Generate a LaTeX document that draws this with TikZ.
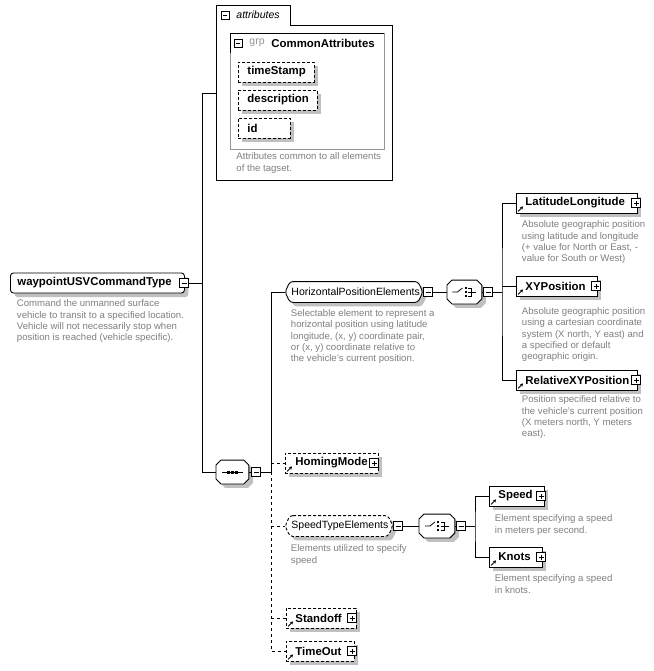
\documentclass[tikz,border=0pt]{standalone}
\usepackage{fontspec}
\setmainfont{Liberation Sans}
\usetikzlibrary{shadows,arrows.meta}
\definecolor{descc}{RGB}{128,128,128}
\definecolor{shc}{RGB}{192,192,192}
\definecolor{grpc}{RGB}{150,150,150}
% octagon (compositor) outline around a named node: node, chamfer, offset
\newcommand\octp[3]{([shift={(#2+#3,#3)}]#1.north west) -- ([shift={(-#2+#3,#3)}]#1.north east) -- ([shift={(#3,#2+#3)}]#1.north east) -- ([shift={(#3,-#2+#3)}]#1.south east) -- ([shift={(-#2+#3,#3)}]#1.south east) -- ([shift={(#2+#3,#3)}]#1.south west) -- ([shift={(#3,-#2+#3)}]#1.south west) -- ([shift={(#3,#2+#3)}]#1.north west) -- cycle}
% hexagon (group) outline: node, dx, offset
\newcommand\hexp[3]{([shift={(#2+#3,#3)}]#1.north west) -- ([shift={(-#2+#3,#3)}]#1.north east) -- ([shift={(#3,#3)}]#1.east) -- ([shift={(-#2+#3,#3)}]#1.south east) -- ([shift={(#2+#3,#3)}]#1.south west) -- ([shift={(#3,#3)}]#1.west) -- cycle}
\newcommand\seqsym[1]{%
  \draw[line width=0.8pt] ([xshift=-10pt]#1.center) -- ([xshift=11pt]#1.center);
  \foreach \d in {-4,0,4} \fill ([shift={(\d-1.5,-1.5)}]#1.center) rectangle ++(3,3);}
\newcommand\chsym[1]{%
  \draw[line width=0.8pt] ([xshift=-12pt]#1.center) -- ([xshift=-7pt]#1.center) -- ([shift={(-2,-4)}]#1.center);
  \foreach \d in {-4,0,4} \fill ([shift={(0.5,\d-1)}]#1.center) rectangle ++(2,2);
  \draw[line width=0.8pt] ([shift={(4,-4)}]#1.center) -- ([shift={(7,-4)}]#1.center) -- ([shift={(7,4)}]#1.center) -- ([shift={(4,4)}]#1.center);
  \draw[line width=0.8pt] ([shift={(4,0)}]#1.center) -- ([shift={(12,0)}]#1.center);}
\newcommand\refarrow[1]{\draw[-{Stealth[length=3pt,width=3.5pt]},line width=0.8pt] ([shift={(2,-2)}]#1.south west) -- ++(5,-5);}
\begin{document}
\begin{tikzpicture}[x=1pt,y=-1pt,line width=0.9pt,
  shd/.style={drop shadow={shadow xshift=4pt,shadow yshift=-4pt,fill=shc,opacity=1}},
  elbox/.style={draw=black,fill=white,inner sep=0pt,anchor=west,minimum height=20pt,shd},
  optbox/.style={elbox,dash pattern=on 3pt off 2pt},
  anch/.style={inner sep=0pt,anchor=west,draw=none},
  nm/.style={font=\fontsize{11.4}{13}\selectfont\bfseries,inner sep=0pt,anchor=west},
  nmr/.style={font=\fontsize{10.5}{12}\selectfont,inner sep=0pt,anchor=west},
  desc/.style={font=\fontsize{9.6}{11.3}\selectfont,text=descc,align=left,inner sep=0pt,anchor=north west},
  pm/.style={draw=black,fill=white,minimum size=9pt,inner sep=0pt,line width=0.8pt},
  minus/.style={pm,path picture={\draw[line width=0.8pt] ([xshift=2pt]path picture bounding box.west) -- ([xshift=-2pt]path picture bounding box.east);}},
  plus/.style={pm,path picture={\draw[line width=0.8pt] ([xshift=2pt]path picture bounding box.west) -- ([xshift=-2pt]path picture bounding box.east) ([yshift=2pt]path picture bounding box.south) -- ([yshift=-2pt]path picture bounding box.north);}},
  conn/.style={line width=0.9pt},
  dconn/.style={line width=0.9pt,dash pattern=on 3pt off 3pt},
]
\useasboundingbox (0,0) rectangle (653,671);
\fill[white] (0,0) rectangle (653,671);

% ---------- root ----------
\node[elbox,rounded corners=3pt,minimum width=174pt] (root) at (10,283) {};
\node[nm] (roott) at (17,283) {waypointUSVCommandType};
\node[minus] (rootm) at (184,283) {};
\node[desc] (rootd) at (16.5,299.5) {Command the unmanned surface\\vehicle to transit to a specified location.\\Vehicle will not necessarily stop when\\position is reached (vehicle specific).};

% ---------- attributes ----------
\node[anch,anchor=north west,minimum width=176pt,minimum height=175pt] (attr) at (216,5) {};
\draw[conn,fill=white] (216,5) -- (290,5) -- (290,25) -- (392,25) -- (392,180) -- (216,180) -- cycle;
\node[minus,minimum size=8pt] (attrm) at (225,15) {};
\node[font=\fontsize{10.5}{12}\selectfont\itshape,inner sep=0pt,anchor=west] (attrt) at (236,15) {attributes};
\draw[grpc] (230,33) rectangle (384,149);
\draw (230,53) -- (230,33) -- (384,33);
\node[minus,minimum size=8pt] (grpm) at (238,43) {};
\node[font=\fontsize{10.5}{12}\selectfont,text=grpc,inner sep=0pt,anchor=west] (grpt) at (249,43) {grp};
\node[nm] (grpn) at (271,43) {CommonAttributes};
\node[optbox,minimum width=76pt] (ts) at (238,72) {};
\node[nm] (tst) at (247,72) {timeStamp};
\node[optbox,minimum width=79pt] (de) at (238,100) {};
\node[nm] (det) at (247,100) {description};
\node[optbox,minimum width=52pt] (id) at (238,128) {};
\node[nm] (idt) at (247,128) {id};
\node[desc] (attrd) at (236,152.5) {Attributes common to all elements\\of the tagset.};

% ---------- sequence ----------
\node[anch,minimum width=32pt,minimum height=23pt] (seq) at (216,472) {};
\fill[shc] \octp{seq}{5}{4};
\draw[fill=white] \octp{seq}{5}{0};
\seqsym{seq}
\node[minus] (seqm) at (256,472) {};

% ---------- HorizontalPositionElements ----------
\node[anch,minimum width=137pt,minimum height=20pt] (hpe) at (285,292) {};
\fill[shc,rounded corners=3pt] \hexp{hpe}{5}{4};
\draw[fill=white,rounded corners=3pt] \hexp{hpe}{5}{0};
\node[nmr] (hpet) at (291,292) {HorizontalPositionElements};
\node[minus] (hpem) at (428,292) {};
\node[desc] (hped) at (290.5,309) {Selectable element to represent a\\horizontal position using latitude\\longitude, (x, y) coordinate pair,\\or (x, y) coordinate relative to\\the vehicle's current position.};

\node[anch,minimum width=34pt,minimum height=23pt] (ch1) at (447,292) {};
\fill[shc] \octp{ch1}{5}{4};
\draw[fill=white] \octp{ch1}{5}{0};
\chsym{ch1}
\node[minus] (ch1m) at (488,292) {};

\node[elbox,minimum width=121pt] (ll) at (516,203) {};
\node[nm] (llt) at (525,203) {LatitudeLongitude};
\node[plus] (llp) at (636,203) {};
\refarrow{ll}
\node[desc] (lld) at (521.5,220.5) {Absolute geographic position\\using latitude and longitude\\(+ value for North or East, -\\value for South or West)};

\node[elbox,minimum width=81pt] (xy) at (516,286) {};
\node[nm] (xyt) at (525,286) {XYPosition};
\node[plus] (xyp) at (596,286) {};
\refarrow{xy}
\node[desc] (xyd) at (521.5,307) {Absolute geographic position\\using a cartesian coordinate\\system (X north, Y east) and\\a specified or default\\geographic origin.};

\node[elbox,minimum width=121pt] (rxy) at (516,380) {};
\node[nm] (rxyt) at (525,380) {RelativeXYPosition};
\node[plus] (rxyp) at (636,380) {};
\refarrow{rxy}
\node[desc] (rxyd) at (521.5,395.5) {Position specified relative to\\the vehicle's current position\\(X meters north, Y meters\\east).};

% ---------- HomingMode ----------
\node[optbox,minimum width=93pt] (hm) at (285,463) {};
\node[nm] (hmt) at (295,463) {HomingMode};
\node[plus] (hmp) at (374,463) {};
\refarrow{hm}

% ---------- SpeedTypeElements ----------
\node[anch,minimum width=107pt,minimum height=20pt] (ste) at (285,526) {};
\fill[shc,rounded corners=3pt] \hexp{ste}{5}{4};
\draw[fill=white,rounded corners=3pt,dash pattern=on 3pt off 2pt] \hexp{ste}{5}{0};
\node[nmr] (stet) at (291,526) {SpeedTypeElements};
\node[minus] (stem) at (398,526) {};
\node[desc] (sted) at (290.5,544.5) {Elements utilized to specify\\speed};

\node[anch,minimum width=35pt,minimum height=23pt] (ch2) at (419,526) {};
\fill[shc] \octp{ch2}{5}{4};
\draw[fill=white] \octp{ch2}{5}{0};
\chsym{ch2}
\node[minus] (ch2m) at (461,526) {};

\node[elbox,minimum width=55pt] (sp) at (489,496) {};
\node[nm] (spt) at (498,496) {Speed};
\node[plus] (spp) at (541,496) {};
\refarrow{sp}
\node[desc] (spd) at (494.5,514.5) {Element specifying a speed\\in meters per second.};

\node[elbox,minimum width=53pt] (kn) at (489,557) {};
\node[nm] (knt) at (498,557) {Knots};
\node[plus] (knp) at (541,557) {};
\refarrow{kn}
\node[desc] (knd) at (494.5,574.5) {Element specifying a speed\\in knots.};

% ---------- Standoff / TimeOut ----------
\node[optbox,minimum width=70pt] (so) at (286,618) {};
\node[nm] (sot) at (295,618) {Standoff};
\node[plus] (sop) at (352,618) {};
\refarrow{so}

\node[optbox,minimum width=68pt] (to) at (286,651) {};
\node[nm] (tot) at (295,651) {TimeOut};
\node[plus] (top) at (352,651) {};
\refarrow{to}

% ---------- connectors ----------
\coordinate (tk) at (202,283);
\coordinate (ta) at (202,93);
\coordinate (tb) at (202,472);
\draw[conn] (rootm.east) -- (tk);
\draw[conn] (attr.west |- ta) -- (ta) -- (tb) -- (seq.west);
\draw[conn] (seq.east) -- (seqm.west);
\coordinate (cv) at (271,472);
\draw[conn] (seqm.east) -- (cv) |- (hpe.west);
\draw[dconn] (cv) -- (cv |- to.west) -- (to.west);
\draw[dconn] (cv |- hm.west) -- (hm.west);
\draw[dconn] (cv |- ste.west) -- (ste.west);
\draw[dconn] (cv |- so.west) -- (so.west);

\draw[conn] (hpe.east) -- (hpem.west);
\draw[conn] (hpem.east) -- (ch1.west);
\draw[conn] (ch1.east) -- (ch1m.west);
\coordinate (cv2) at (502,292);
\draw[conn] (ch1m.east) -- (cv2);
\draw[conn] (ll.west) -| (cv2) |- (rxy.west);
\draw[conn] (cv2 |- xy.west) -- (xy.west);

\draw[conn] (ste.east) -- (stem.west);
\draw[conn] (stem.east) -- (ch2.west);
\draw[conn] (ch2.east) -- (ch2m.west);
\coordinate (cv3) at (475,526);
\draw[conn] (ch2m.east) -- (cv3);
\draw[conn] (sp.west) -| (cv3) |- (kn.west);
\end{tikzpicture}
\end{document}
